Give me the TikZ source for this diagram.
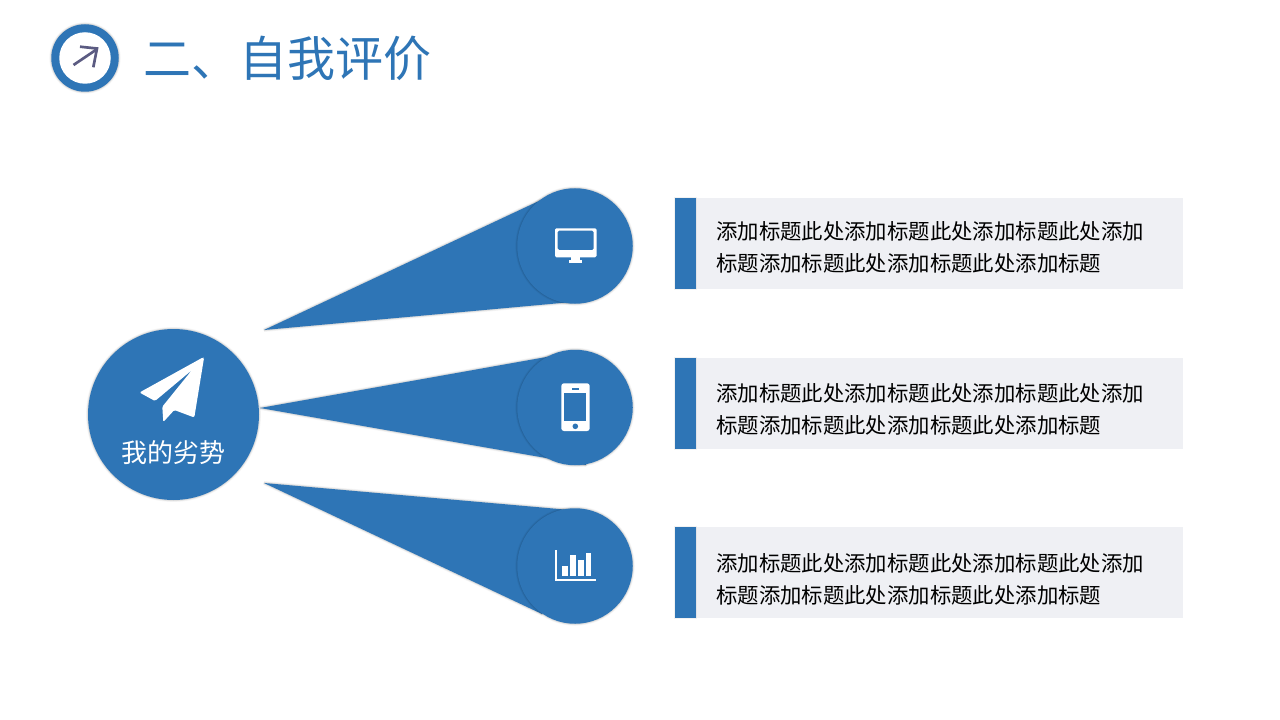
\documentclass[tikz,border=0pt]{standalone}
\usepackage{fontspec}
\newfontfamily\cjk{Noto Sans CJK SC}
\definecolor{mainblue}{HTML}{2E75B6}
\definecolor{panelgrey}{HTML}{EFF0F4}
\definecolor{arrowgrey}{HTML}{5B5B82}
\tikzset{
  softedge/.style={
    preaction={draw=black,draw opacity=.03,line width=3pt,line join=bevel},
    preaction={draw=black,draw opacity=.05,line width=2pt,line join=bevel},
    preaction={draw=black,draw opacity=.07,line width=1pt,line join=bevel}},
  disc/.style={circle,fill=mainblue,inner sep=0pt,softedge,minimum size=#1*0.75pt},
  wedge/.style={fill=mainblue,softedge},
  panel/.style={rectangle,fill=panelgrey,inner sep=0pt,anchor=north west,minimum width=487*0.75pt,minimum height=91*0.75pt},
  bar/.style={rectangle,fill=mainblue,inner sep=0pt,anchor=north west,minimum width=21*0.75pt,minimum height=91*0.75pt,
    preaction={draw=black,draw opacity=.05,line width=1.2pt}},
  bodytext/.style={anchor=west,inner sep=0pt,align=left,text=black,font=\cjk\fontsize{16.04}{24}\selectfont},
  icon/.style={fill=white,draw=none}
}
\begin{document}
\begin{tikzpicture}[x=0.75pt,y=-0.75pt]
\useasboundingbox (0,0) rectangle (1280,720);
\fill[white] (0,0) rectangle (1280,720);

% header
\node[disc=67.5] (ring) at (85,58) {};
\node[circle,fill=white,inner sep=0pt,minimum size=51.5*0.75pt] (ringin) at (ring) {};
\draw[arrowgrey,line width=2pt] (73.5,65) -- (96.5,49.5);
\draw[arrowgrey,line width=2pt] (80,46.7) -- (97,48.5) -- (93.3,67.3);
\node[anchor=west,inner sep=0pt,text=mainblue,font=\cjk\fontsize{36}{40}\selectfont] (title) at (143,58) {二、自我评价};

% wedges
\coordinate (a1) at (264,330); \coordinate (a1t) at (541,200); \coordinate (a1b) at (572,302);
\coordinate (a2) at (260,408); \coordinate (a2t) at (552,356); \coordinate (a2b) at (586,465);
\coordinate (a3) at (264,483); \coordinate (a3t) at (570,510); \coordinate (a3b) at (542,614);
\draw[wedge,draw=none] (a1) -- (a1t) -- (a1b) -- cycle;
\draw[wedge,draw=none] (a2) -- (a2t) -- (a2b) -- cycle;
\draw[wedge,draw=none] (a3) -- (a3t) -- (a3b) -- cycle;

% discs
\node[disc=171] (hub) at (173.5,414.5) {};
\node[disc=115.5] (c1) at (575,246) {};
\node[disc=115.5] (c2) at (575,407.5) {};
\node[disc=115.5] (c3) at (575,566) {};

% plane icon
\fill[icon,rounded corners=1pt] (202.8,357.5) -- (139.5,392.5) -- (155,401) -- (192,370) -- (162.3,406.7) -- (163.3,422) -- (174.3,410) -- (194.3,417.5) -- (204,358) -- cycle;
\node[inner sep=0pt,text=white,font=\cjk\fontsize{19.5}{24}\selectfont] (hubtext) at (173.5,453) {我的劣势};

% monitor icon
\fill[icon,rounded corners=1pt,even odd rule] (555,228.3) rectangle (596.5,257.3) (557.7,230.7) rectangle (593.7,250);
\fill[icon] (570.7,257) rectangle (580,260.2);
\fill[icon] (569,260) rectangle (582,263.3);

% phone icon
\fill[icon,rounded corners=2pt] (561.3,383.3) rectangle (589.7,431);
\fill[mainblue] (564.3,393.3) rectangle (586.3,421.3);
\fill[mainblue] (572,388.4) rectangle (578.7,389.6);
\fill[mainblue] (575.3,426.3) circle[radius=2.8];

% chart icon
\fill[icon] (555,550) rectangle (557.3,581.3);
\fill[icon] (555,579) rectangle (596.3,581.3);
\fill[icon] (562.3,566) rectangle (568,576);
\fill[icon] (570.3,555) rectangle (575.7,576);
\fill[icon] (578.3,560.3) rectangle (583.7,576);
\fill[icon] (586,553.3) rectangle (591.3,576);

% panels
\node[panel] (p1) at (696,198) {};
\node[bar] (b1) at (675,198) {};
\node[bodytext] (t1) at (716,247) {添加标题此处添加标题此处添加标题此处添加\\标题添加标题此处添加标题此处添加标题};
\node[panel] (p2) at (696,358) {};
\node[bar] (b2) at (675,358) {};
\node[bodytext] (t2) at (716,409) {添加标题此处添加标题此处添加标题此处添加\\标题添加标题此处添加标题此处添加标题};
\node[panel] (p3) at (696,527) {};
\node[bar] (b3) at (675,527) {};
\node[bodytext] (t3) at (716,579) {添加标题此处添加标题此处添加标题此处添加\\标题添加标题此处添加标题此处添加标题};
\end{tikzpicture}
\end{document}
